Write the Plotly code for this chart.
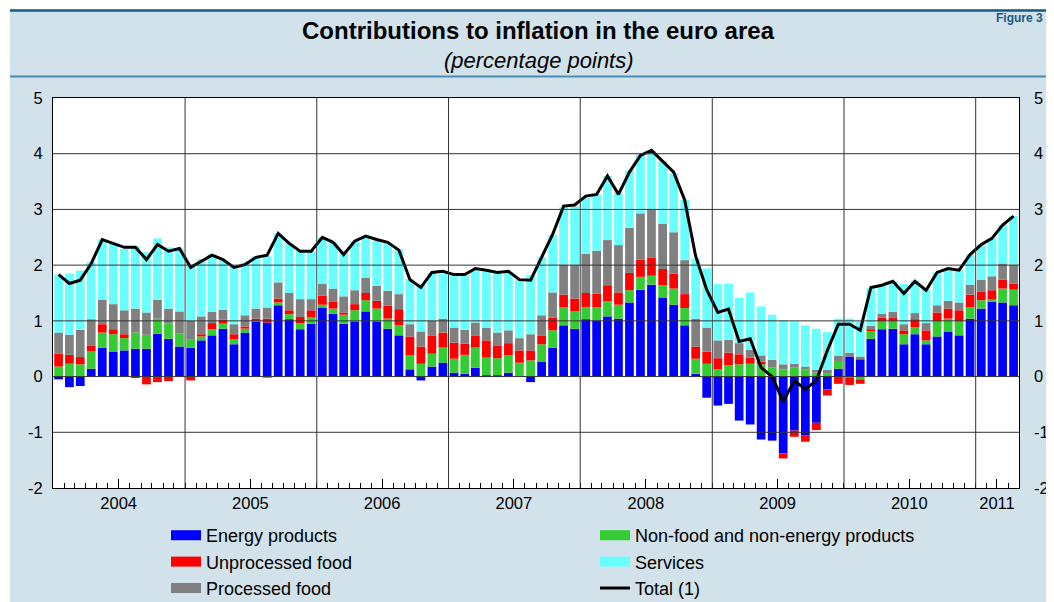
import pandas as pd
import plotly.graph_objects as go

# ---------------- data (percentage points, monthly Jan 2004 - Apr 2011) ----------------
months = pd.date_range("2004-01-01", periods=88, freq="MS").strftime("%Y-%m-%d").tolist()

energy = [
    -0.05, -0.19, -0.17, 0.14, 0.52, 0.45, 0.47, 0.50, 0.50, 0.77, 0.68, 0.54,
    0.52, 0.65, 0.74, 0.86, 0.58, 0.79, 0.99, 0.97, 1.28, 1.03, 0.85, 0.95,
    1.24, 1.13, 0.95, 0.99, 1.17, 0.99, 0.86, 0.74, 0.13, -0.07, 0.18, 0.25,
    0.07, 0.05, 0.16, 0.02, 0.02, 0.07, 0.00, -0.10, 0.27, 0.52, 0.92, 0.86,
    1.03, 1.01, 1.08, 1.04, 1.33, 1.56, 1.65, 1.42, 1.29, 0.92, 0.05, -0.38,
    -0.52, -0.49, -0.79, -0.86, -1.13, -1.15, -1.38, -0.97, -1.06, -0.83, -0.23, 0.14,
    0.36, 0.31, 0.68, 0.85, 0.86, 0.58, 0.76, 0.58, 0.72, 0.81, 0.74, 1.04,
    1.22, 1.35, 1.33, 1.28,
]
non_food_non_energy = [
    0.18, 0.23, 0.22, 0.31, 0.27, 0.31, 0.22, 0.29, 0.25, 0.27, 0.27, 0.23,
    0.14, 0.07, 0.11, 0.09, 0.09, 0.07, 0.01, -0.01, 0.05, 0.09, 0.11, 0.11,
    0.05, 0.09, 0.16, 0.20, 0.20, 0.23, 0.18, 0.18, 0.25, 0.23, 0.23, 0.27,
    0.25, 0.34, 0.36, 0.32, 0.31, 0.31, 0.25, 0.29, 0.31, 0.31, 0.32, 0.31,
    0.22, 0.23, 0.27, 0.25, 0.22, 0.23, 0.16, 0.22, 0.29, 0.31, 0.27, 0.23,
    0.13, 0.20, 0.22, 0.23, 0.22, 0.16, 0.13, 0.16, 0.13, 0.07, 0.05, 0.14,
    -0.02, -0.05, 0.14, 0.14, 0.14, 0.18, 0.13, 0.07, 0.27, 0.23, 0.25, 0.20,
    0.15, 0.03, 0.25, 0.28,
]
unprocessed_food = [
    0.23, 0.16, 0.13, 0.11, 0.15, 0.09, 0.07, -0.02, -0.14, -0.10, -0.08, 0.00,
    -0.07, 0.04, 0.11, 0.07, 0.09, 0.04, 0.04, 0.07, 0.07, 0.07, 0.11, 0.13,
    0.16, 0.13, 0.04, 0.11, 0.13, 0.14, 0.23, 0.29, 0.34, 0.31, 0.32, 0.27,
    0.29, 0.20, 0.22, 0.31, 0.23, 0.22, 0.22, 0.18, 0.16, 0.23, 0.23, 0.23,
    0.25, 0.25, 0.29, 0.22, 0.31, 0.31, 0.32, 0.29, 0.27, 0.25, 0.22, 0.22,
    0.20, 0.23, 0.18, 0.11, 0.05, 0.00, -0.09, -0.11, -0.11, -0.13, -0.11, -0.13,
    -0.13, -0.08, 0.02, 0.07, 0.05, 0.07, 0.14, 0.18, 0.16, 0.18, 0.20, 0.23,
    0.16, 0.17, 0.16, 0.11,
]
processed_food = [
    0.38, 0.36, 0.49, 0.47, 0.44, 0.45, 0.43, 0.43, 0.40, 0.34, 0.27, 0.40,
    0.34, 0.32, 0.20, 0.18, 0.18, 0.20, 0.18, 0.20, 0.29, 0.31, 0.32, 0.20,
    0.22, 0.23, 0.29, 0.25, 0.27, 0.27, 0.27, 0.27, 0.22, 0.27, 0.27, 0.25,
    0.27, 0.25, 0.23, 0.23, 0.23, 0.23, 0.22, 0.29, 0.36, 0.45, 0.54, 0.61,
    0.70, 0.77, 0.81, 0.85, 0.81, 0.83, 0.86, 0.81, 0.74, 0.61, 0.50, 0.43,
    0.32, 0.23, 0.20, 0.14, 0.11, 0.14, 0.09, 0.07, 0.05, 0.05, 0.07, 0.09,
    0.07, 0.05, 0.07, 0.07, 0.11, 0.11, 0.11, 0.13, 0.13, 0.14, 0.14, 0.18,
    0.21, 0.25, 0.29, 0.34,
]
services = [
    1.04, 1.10, 1.06, 1.03, 1.08, 1.10, 1.10, 1.12, 1.08, 1.10, 1.10, 1.13,
    1.01, 1.03, 1.03, 0.88, 1.04, 0.94, 0.94, 0.92, 0.88, 0.90, 0.86, 0.86,
    0.83, 0.83, 0.79, 0.88, 0.74, 0.81, 0.86, 0.81, 0.81, 0.85, 0.86, 0.81,
    0.95, 0.97, 0.94, 1.01, 1.06, 1.04, 1.06, 1.06, 1.04, 1.03, 1.03, 1.04,
    1.01, 1.01, 1.15, 0.94, 1.03, 1.06, 1.06, 1.13, 1.06, 1.08, 1.08, 1.06,
    1.01, 1.01, 0.81, 1.03, 0.88, 0.81, 0.79, 0.76, 0.74, 0.74, 0.68, 0.67,
    0.61, 0.63, 0.68, 0.50, 0.54, 0.72, 0.58, 0.61, 0.59, 0.58, 0.58, 0.54,
    0.63, 0.68, 0.69, 0.87,
]
total = [
    1.83, 1.67, 1.73, 2.03, 2.46, 2.39, 2.32, 2.32, 2.10, 2.37, 2.25, 2.30,
    1.96, 2.07, 2.18, 2.10, 1.96, 2.01, 2.14, 2.18, 2.57, 2.39, 2.25, 2.25,
    2.50, 2.41, 2.19, 2.43, 2.52, 2.46, 2.41, 2.27, 1.74, 1.60, 1.87, 1.89,
    1.83, 1.83, 1.94, 1.91, 1.87, 1.89, 1.74, 1.73, 2.14, 2.55, 3.06, 3.08,
    3.24, 3.27, 3.60, 3.27, 3.67, 3.97, 4.06, 3.87, 3.67, 3.17, 2.16, 1.56,
    1.15, 1.21, 0.63, 0.68, 0.16, 0.00, -0.45, -0.07, -0.23, -0.07, 0.47, 0.94,
    0.94, 0.83, 1.60, 1.64, 1.71, 1.49, 1.71, 1.55, 1.87, 1.94, 1.91, 2.19,
    2.37, 2.48, 2.72, 2.88,
]

year_labels = ["2004", "2005", "2006", "2007", "2008", "2009", "2010", "2011"]
year_label_pos = ["2004-07-01", "2005-07-01", "2006-07-01", "2007-07-01",
                  "2008-07-01", "2009-07-01", "2010-07-01", "2011-03-01"]
year_starts = ["2005-01-01", "2006-01-01", "2007-01-01", "2008-01-01",
               "2009-01-01", "2010-01-01", "2011-01-01"]
y_ticks = [-2, -1, 0, 1, 2, 3, 4, 5]
y_ticktext = ["-2", "-1", "0", "1", "2", "3", "4", "5"]
y_grid = [-1, 0, 1, 2, 3, 4]

# ---------------- styling ----------------
FONT = "Liberation Sans, Arial, Helvetica, sans-serif"
PANEL = "#d2e2ea"
series = [
    ("Energy products", energy, "#0000ff", 1),
    ("Non-food and non-energy products", non_food_non_energy, "#33cc33", 2),
    ("Unprocessed food", unprocessed_food, "#ff0000", 3),
    ("Processed food", processed_food, "#808080", 5),
    ("Services", services, "#6affff", 4),
]

fig = go.Figure()
for name, vals, color, rank in series:
    fig.add_trace(go.Bar(
        x=months, y=vals, name=name, marker=dict(color=color, line=dict(width=0)),
        xperiod="M1", xperiodalignment="middle",
        legendgroup=name, showlegend=False,
    ))
    # legend swatch (wide rectangle like the original)
    fig.add_trace(go.Scatter(
        x=[None], y=[None], mode="lines", name=name, legendgroup=name,
        line=dict(color=color, width=10), legendrank=rank, hoverinfo="skip",
    ))

fig.add_trace(go.Scatter(
    x=months, y=total, name="Total (1)", mode="lines",
    xperiod="M1", xperiodalignment="middle",
    line=dict(color="black", width=3), yaxis="y2", legendrank=6,
))

shapes = []
# margin decoration: white strips + header rules
shapes.append(dict(type="rect", xref="paper", yref="paper", x0=-0.2, x1=-0.0445,
                   y0=-0.5, y1=1.5, fillcolor="white", line=dict(width=0), layer="below"))
shapes.append(dict(type="rect", xref="paper", yref="paper", x0=-0.2, x1=1.2,
                   y0=1.2269, y1=1.5, fillcolor="white", line=dict(width=0), layer="below"))
shapes.append(dict(type="line", xref="paper", yref="paper", x0=-0.0445, x1=1.2,
                   y0=1.2244, y1=1.2244, line=dict(color="#175a84", width=2.5)))
shapes.append(dict(type="line", xref="paper", yref="paper", x0=-0.0445, x1=1.2,
                   y0=1.0551, y1=1.0551, line=dict(color="#4b8db2", width=2)))
# grid lines drawn over the bars, as in the original
for g in y_grid:
    shapes.append(dict(type="line", xref="paper", yref="y", x0=0, x1=1, y0=g, y1=g,
                       line=dict(color="#333333", width=1), layer="above"))
for d in year_starts:
    shapes.append(dict(type="line", xref="x", yref="paper", x0=d, x1=d, y0=0, y1=1,
                       line=dict(color="#333333", width=1), layer="above"))

fig.update_layout(
    width=1054, height=602,
    margin=dict(l=45, r=43, t=90, b=122, autoexpand=False),
    paper_bgcolor=PANEL, plot_bgcolor="white",
    barmode="relative", bargap=0.18,
    font=dict(family=FONT, size=16, color="black"),
    shapes=shapes,
    xaxis=dict(
        type="date", range=["2004-01-01", "2011-05-01"],
        tickmode="array", tickvals=year_label_pos, ticktext=year_labels,
        ticks="inside", ticklen=9, tickcolor="black", tickwidth=1,
        minor=dict(tickmode="linear", tick0="2004-01-01", dtick="M1",
                   ticks="inside", ticklen=5, tickcolor="black", showgrid=False),
        showgrid=False, showline=True, mirror=True, linecolor="black", linewidth=1,
        tickfont=dict(size=16.5), ticklabelstandoff=0, automargin=False,
    ),
    yaxis=dict(
        range=[-2, 5], tickmode="array", tickvals=y_ticks, ticktext=y_ticktext,
        showgrid=False, zeroline=False, ticks="",
        showline=True, mirror=True, linecolor="black", linewidth=1,
        tickfont=dict(size=16.5), ticklabelstandoff=6, automargin=False,
    ),
    yaxis2=dict(
        range=[-2, 5], tickmode="array", tickvals=y_ticks, ticktext=y_ticktext,
        overlaying="y", side="right", anchor="x", showgrid=False, zeroline=False,
        ticks="", tickfont=dict(size=16.5), ticklabelstandoff=14, automargin=False,
    ),
    legend=dict(
        orientation="h", x=0.117, xanchor="left", y=-0.0744, yanchor="top",
        traceorder="normal", entrywidth=384, entrywidthmode="pixels",
        itemwidth=30, font=dict(size=18), bgcolor="rgba(0,0,0,0)",
        itemclick=False, itemdoubleclick=False,
    ),
    annotations=[
        dict(text="<b>Contributions to inflation in the euro area</b>", xref="paper", yref="paper",
             x=0.503, y=1.1718, xanchor="center", yanchor="middle", showarrow=False,
             font=dict(size=24)),
        dict(text="<i>(percentage points)</i>", xref="paper", yref="paper",
             x=0.503, y=1.0974, xanchor="center", yanchor="middle", showarrow=False,
             font=dict(size=22)),
        dict(text="<b>Figure 3</b>", xref="paper", yref="paper",
             x=1.027, y=1.2051, xanchor="right", yanchor="middle", showarrow=False,
             font=dict(size=12, color="#175a84")),
    ],
)

fig.write_html("out.html")
